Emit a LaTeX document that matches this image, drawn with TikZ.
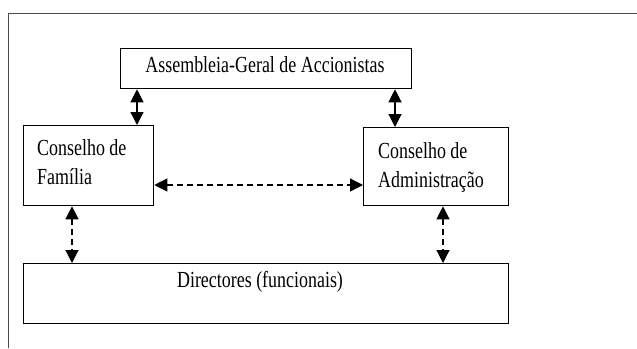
\documentclass[tikz,border=0pt]{standalone}
\usepackage{fontspec}
\setmainfont{Liberation Serif}[FakeStretch=0.78]
\usetikzlibrary{arrows.meta}
\begin{document}
\begin{tikzpicture}[x=1pt,y=-1pt,
  box/.style={draw=black,line width=1.3pt,inner sep=0pt,anchor=north west},
  txt/.style={font=\fontsize{23}{28}\selectfont,inner sep=0pt},
  link/.style={line width=1.2pt,{Triangle[length=13pt,width=13pt]}-{Triangle[length=13pt,width=13pt]}},
  dlink/.style={link,dash pattern=on 6pt off 4pt}]
\useasboundingbox (0,0) rectangle (637,348);
% outer frame, only its left and top edges fall inside the page
\draw[line width=1pt,black!70] (8,348) -- (8,13) -- (640,13);
% boxes
\node[box,minimum width=291pt,minimum height=40pt] (asm) at (120,48) {};
\node[txt,anchor=base] (asmt) at (265,72) {Assembleia-Geral de Accionistas};
\node[box,minimum width=130pt,minimum height=80pt] (fam) at (23,125) {};
\node[txt,anchor=base west] (fam1) at (37,155) {Conselho de};
\node[txt,anchor=base west] (fam2) at (37,184) {Família};
\node[box,minimum width=145pt,minimum height=78pt] (adm) at (363,127) {};
\node[txt,anchor=base west] (adm1) at (378,158) {Conselho de};
\node[txt,anchor=base west] (adm2) at (378,187) {Administração};
\node[box,minimum width=485pt,minimum height=60pt] (dir) at (23,263) {};
\node[txt,anchor=base] (dirt) at (260,287) {Directores (funcionais)};
% connector positions
\coordinate (xa) at (137,0);
\coordinate (xb) at (395,0);
\coordinate (xc) at (72,0);
\coordinate (xd) at (443,0);
\coordinate (yh) at (0,185);
% connectors
\draw[link] (asm.south -| xa) -- (fam.north -| xa);
\draw[link] (asm.south -| xb) -- (adm.north -| xb);
\draw[dlink] (fam.east |- yh) -- (adm.west |- yh);
\draw[dlink] (fam.south -| xc) -- (dir.north -| xc);
\draw[dlink] (adm.south -| xd) -- (dir.north -| xd);
\end{tikzpicture}
\end{document}
